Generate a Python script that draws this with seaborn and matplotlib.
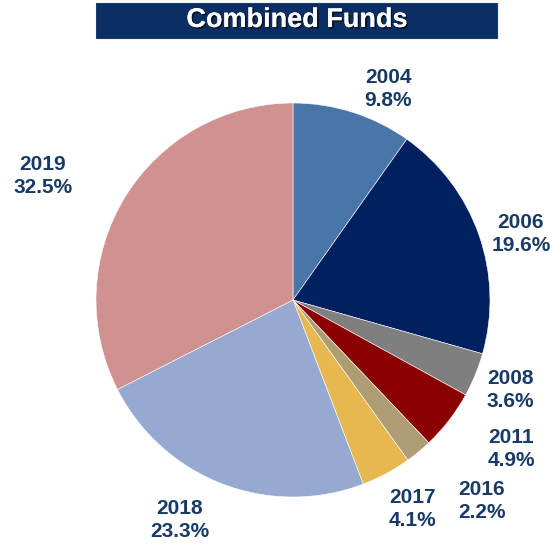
import matplotlib
matplotlib.use("Agg")
import matplotlib.pyplot as plt
import matplotlib.patches as mpatches
import matplotlib.patheffects as pe
import seaborn as sns

years = ["2004", "2006", "2008", "2011", "2016", "2017", "2018", "2019"]
shares = [9.8, 19.6, 3.6, 4.9, 2.2, 4.1, 23.3, 32.5]
slice_colors = ["#4A75A9", "#002060", "#7F7F7F", "#8B0000", "#AE9C72",
                "#E7B84F", "#95A9D1", "#D09290"]
title_text = "Combined Funds"

sns.set_theme(style="white")
plt.rcParams['font.family'] = ['Liberation Sans', 'DejaVu Sans']

W, H = 554, 546
fig = plt.figure(figsize=(W / 100, H / 100), dpi=100)
cx, cy, R = 293, 300, 197
ax = fig.add_axes([0, 0, 1, 1])

palette = sns.color_palette(slice_colors)
wedges, _ = ax.pie(shares, colors=palette, startangle=90, counterclock=False,
                   radius=1.0, center=(0, 0), frame=True,
                   wedgeprops=dict(edgecolor="white", linewidth=0.4))
ax.set_xlim(-cx / R, (W - cx) / R)
ax.set_ylim(-(H - cy) / R, cy / R)
ax.set_aspect("equal")
ax.axis("off")

# label centers in pixel coordinates (x, y from top)
label_px = [(388, 89), (521, 234), (510, 390), (511, 449), (482, 501),
            (412, 509), (180, 520), (43, 176)]
label_color = "#183A66"
for yr, val, (px, py) in zip(years, shares, label_px):
    ax.text((px - cx) / R, (cy - py) / R, f"{yr}\n{val:.1f}%",
            ha="center", va="center", fontsize=15, fontweight="bold",
            color=label_color, linespacing=1.22)

# title box
box = mpatches.Rectangle((96 / W, 1 - 38 / H), (497 - 96) / W, 35 / H,
                         transform=fig.transFigure, facecolor="#0B2F64",
                         edgecolor="#1C3C70", linewidth=0.8, zorder=5)
fig.patches.append(box)
fig.text(297 / W, 1 - 20 / H, title_text, ha="center", va="center",
         fontsize=19.5, fontweight="bold", color="white", zorder=6,
         path_effects=[pe.withSimplePatchShadow(offset=(1.2, -1.2),
                                                shadow_rgbFace="#000000",
                                                alpha=0.6),
                       pe.Normal()])

fig.savefig("out.png", dpi=100, facecolor="white")
